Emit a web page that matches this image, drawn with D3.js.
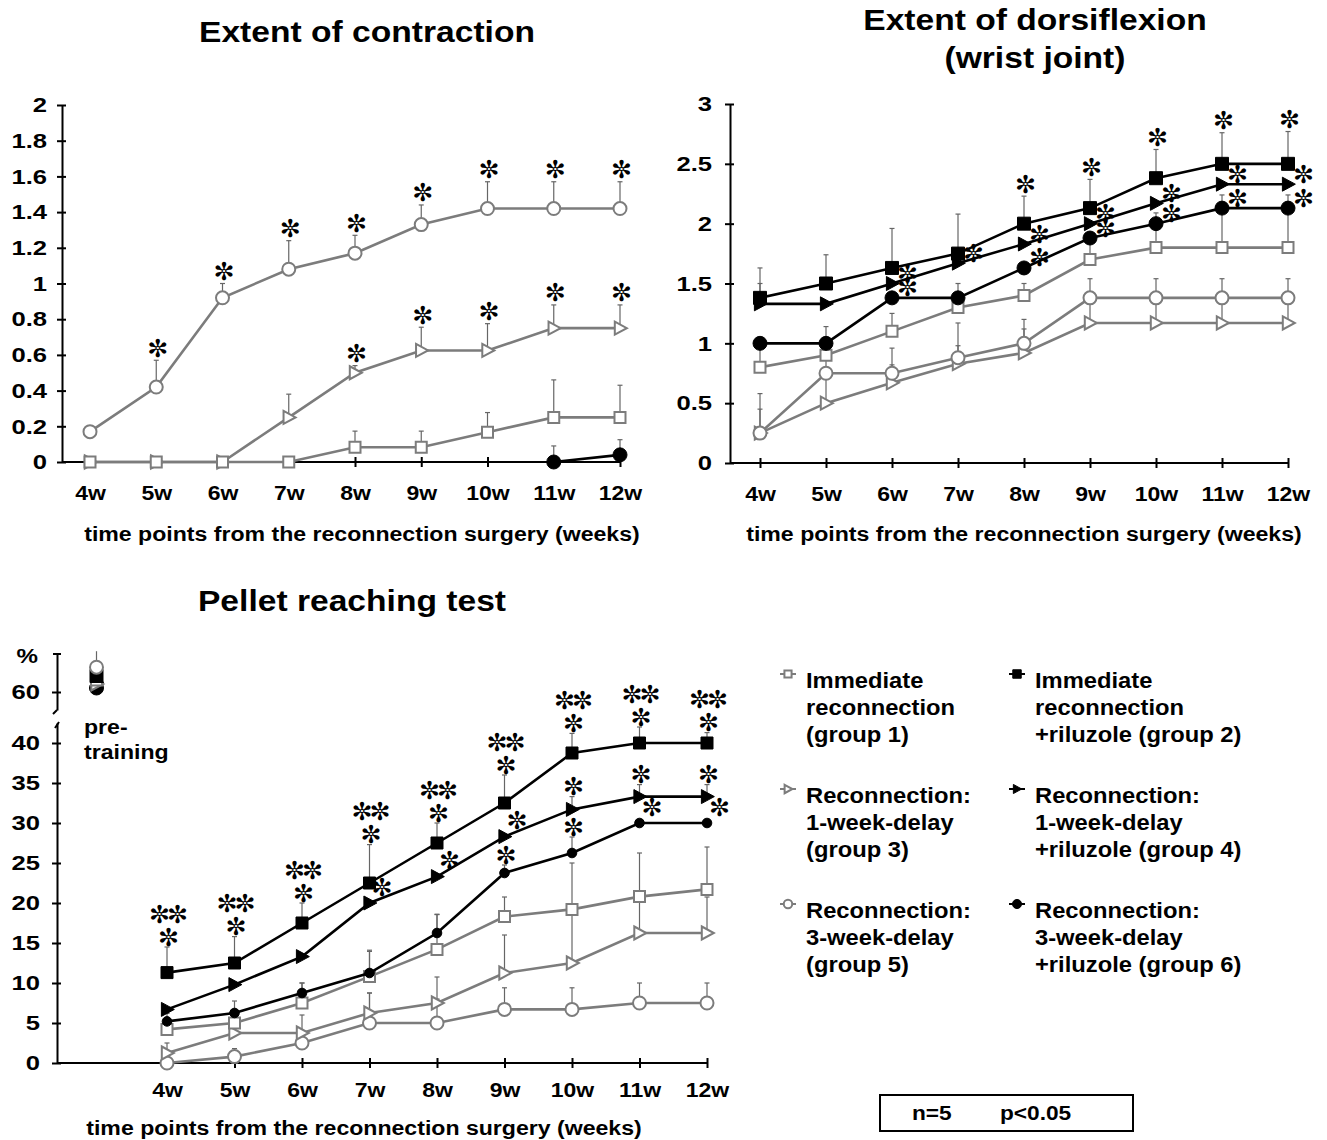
<!DOCTYPE html>
<html>
<head>
<meta charset="utf-8">
<script src="https://cdn.jsdelivr.net/npm/d3@7/dist/d3.min.js"></script>
<style>
  body { margin: 0; background: #fff; }
  text { font-family: "Liberation Sans", Arial, sans-serif; font-weight: bold; fill: #000; }
  .star { font-family: "DejaVu Sans", sans-serif; font-weight: normal; }
</style>
</head>
<body>
<div id="wrapper"></div>
<script>
// 1. Data

const weeks = ["4w", "5w", "6w", "7w", "8w", "9w", "10w", "11w", "12w"]

// Extent of contraction
const contrG1 = [0, 0, 0, 0, 0.083, 0.083, 0.167, 0.25, 0.25]
const contrG1Sd = [0, 0, 0, 0, 0.09, 0.09, 0.11, 0.21, 0.18]
const contrG3 = [0, 0, 0, 0.25, 0.5, 0.625, 0.625, 0.75, 0.75]
const contrG3Sd = [0, 0, 0, 0.13, 0.04, 0.13, 0.15, 0.13, 0.13]
const contrG3Sig = ["", "", "", "", "*", "*", "*", "*", "*"]
const contrG5 = [0.17, 0.42, 0.92, 1.08, 1.17, 1.33, 1.42, 1.42, 1.42]
const contrG5Sd = [0, 0.15, 0.08, 0.16, 0.10, 0.11, 0.15, 0.15, 0.15]
const contrG5Sig = ["", "*", "*", "*", "*", "*", "*", "*", "*"]
const contrG6 = [null, null, null, null, null, null, null, 0, 0.04]
const contrG6Sd = [0, 0, 0, 0, 0, 0, 0, 0.09, 0.085]
const contrTicks = [0, 0.2, 0.4, 0.6, 0.8, 1, 1.2, 1.4, 1.6, 1.8, 2]

// Extent of dorsiflexion
const dorsG1 = [0.8, 0.9, 1.1, 1.3, 1.4, 1.7, 1.8, 1.8, 1.8]
const dorsG1Sd = [0.2, 0.1, 0.15, 0.2, 0.1, 0.19, 0.29, 0.44, 0.44]
const dorsG2 = [1.38, 1.5, 1.63, 1.75, 2.0, 2.13, 2.38, 2.5, 2.5]
const dorsG2Sd = [0.25, 0.24, 0.33, 0.33, 0.23, 0.24, 0.24, 0.26, 0.27]
const dorsG2Sig = ["", "", "", "", "*", "*", "*", "*", "*"]
const dorsG3 = [0.25, 0.5, 0.67, 0.83, 0.92, 1.17, 1.17, 1.17, 1.17]
const dorsG3Sd = [0.2, 0.25, 0.15, 0.15, 0.2, 0.21, 0.21, 0.21, 0.21]
const dorsG4 = [1.33, 1.33, 1.5, 1.67, 1.83, 2.0, 2.17, 2.33, 2.33]
const dorsG4Sd = [0.17, 0, 0, 0, 0, 0, 0, 0, 0]
const dorsG4Sig = ["", "", "*", "*", "*", "*", "*", "*", "*"]
const dorsG5 = [0.25, 0.75, 0.75, 0.88, 1.0, 1.38, 1.38, 1.38, 1.38]
const dorsG5Sd = [0.33, 0.2, 0.21, 0.29, 0.2, 0.16, 0.16, 0.16, 0.16]
const dorsG6 = [1.0, 1.0, 1.38, 1.38, 1.63, 1.88, 2.0, 2.13, 2.13]
const dorsG6Sd = [0, 0.14, 0, 0, 0, 0, 0, 0, 0]
const dorsG6Sig = ["", "", "*", "", "*", "*", "*", "*", "*"]
const dorsTicks = [0, 0.5, 1, 1.5, 2, 2.5, 3]

// Pellet reaching test (%)
const pellG1 = [4.2, 5.0, 7.5, 10.8, 14.2, 18.3, 19.2, 20.8, 21.7]
const pellG1Sd = [1, 1.5, 2.5, 3.3, 4.4, 2.45, 5.8, 5.45, 5.3]
const pellG2 = [11.3, 12.5, 17.5, 22.5, 27.5, 32.5, 38.75, 40, 40]
const pellG2Sd = [3.2, 3.3, 2.5, 4.8, 2.5, 3.5, 2.45, 2.0, 1.3]
const pellG2Sig = ["**|*", "**|*", "**|*", "**|*", "**|*", "**|*", "**|*", "**|*", "**|*"]
const pellG3 = [1.25, 3.75, 3.75, 6.25, 7.5, 11.25, 12.5, 16.25, 16.25]
const pellG3Sd = [1.25, 1.5, 2.25, 2.5, 3.25, 4.75, 6.25, 4.5, 4.5]
const pellG4 = [6.7, 9.8, 13.3, 20, 23.3, 28.3, 31.7, 33.3, 33.3]
const pellG4Sd = [0, 0, 0, 0, 0, 0, 1.6, 1.5, 1.5]
const pellG4Sig = ["", "", "", "*", "*", "*", "*", "*", "*"]
const pellG5 = [0, 0.8, 2.5, 5, 5, 6.7, 6.7, 7.5, 7.5]
const pellG5Sd = [0, 1, 1.5, 3.75, 3, 2.7, 2.7, 2.5, 2.5]
const pellG6 = [5.2, 6.25, 8.75, 11.25, 16.25, 23.75, 26.25, 30, 30]
const pellG6Sd = [1, 1.5, 1.25, 2.7, 2.3, 1.0, 2.0, 0, 0]
const pellG6Sig = ["", "", "", "", "", "*", "*", "*", "*"]
// pre-training values, groups 1..6
const pellPre = [61.5, 62, 61, 61.2, 63.1, 60.5]
const pellPreSd = [0, 0, 0, 0, 2, 0]
const pellTicks = [0, 5, 10, 15, 20, 25, 30, 35, 40]
const pellUpperTicks = [60]

const legendGroups = ["g1", "g3", "g5", "g2", "g4", "g6"]
const legendLabels = [
  ["Immediate", "reconnection", "(group 1)"],
  ["Reconnection:", "1-week-delay", "(group 3)"],
  ["Reconnection:", "3-week-delay", "(group 5)"],
  ["Immediate", "reconnection", "+riluzole (group 2)"],
  ["Reconnection:", "1-week-delay", "+riluzole (group 4)"],
  ["Reconnection:", "3-week-delay", "+riluzole (group 6)"],
]

// 2. Styles

const gray = "#7c7c7c"
const groupStyle = {
  g1: {shape: "square", open: true, color: gray, size: 5.5},
  g2: {shape: "square", open: false, color: "#000", size: 6.5},
  g3: {shape: "triangle", open: true, color: gray, size: 6.5},
  g4: {shape: "triangle", open: false, color: "#000", size: 7},
  g5: {shape: "circle", open: true, color: gray, size: 6.5},
  g6: {shape: "circle", open: false, color: "#000", size: 7},
}

function markerPath(shape, s) {
  if (shape == "square") return `M${-s},${-s}H${s}V${s}H${-s}Z`
  if (shape == "triangle") return `M${-s * 0.8},${-s}L${s * 1.05},0L${-s * 0.8},${s}Z`
  return `M${-s},0A${s},${s} 0 1,0 ${s},0A${s},${s} 0 1,0 ${-s},0Z`
}

// widen text horizontally around its anchor, like the stretched original
function stretch(selection, sx) {
  selection.each(function() {
    const t = d3.select(this)
    const x = +t.attr("x") || 0
    const y = +t.attr("y") || 0
    t.attr("transform", `translate(${x},${y}) scale(${sx},1) translate(${-x},${-y})`)
  })
}

const wrapper = d3.select("#wrapper")
  .append("svg")
    .attr("width", 1327)
    .attr("height", 1140)

function drawMarker(g, group, cx, cy, size) {
  const st = groupStyle[group]
  g.append("path")
      .attr("d", markerPath(st.shape, size || st.size))
      .attr("transform", `translate(${cx},${cy})`)
      .attr("fill", st.open ? "#fff" : "#000")
      .attr("stroke", st.color)
      .attr("stroke-width", st.open ? 2 : 1)
}

function drawSig(g, cx, cy, label, gap) {
  const lines = label.split("|").reverse()
  lines.forEach((line, i) => {
    g.append("text")
        .attr("class", "star")
        .attr("x", cx)
        .attr("y", cy - i * gap)
        .attr("text-anchor", "middle")
        .attr("dominant-baseline", "central")
        .attr("font-size", 25)
        .attr("letter-spacing", -3)
        .text(line.replace(/\*/g, "\u273C"))
  })
}

// 3. Panel drawing

function drawPanel(p) {
  const g = wrapper.append("g")
  const {x, y} = p

  // axes
  const yAxis = d3.axisLeft(y)
      .tickValues(p.yTicks)
      .tickSize(5)
      .tickSizeOuter(0)
      .tickPadding(p.yPad)
      .tickFormat(d => d3.format("")(+d.toFixed(1)))
  const yAxisG = g.append("g")
      .attr("transform", `translate(${p.axisX},0)`)
      .call(yAxis)
  yAxisG.select(".domain").attr("stroke-width", 2)
  yAxisG.selectAll(".tick line").attr("x1", 4).attr("stroke-width", 2)
  yAxisG.selectAll(".tick text").attr("font-size", 21).attr("fill", "#000")
      .call(stretch, 1.22)

  const xAxis = d3.axisBottom(x)
      .tickValues(d3.range(weeks.length))
      .tickSize(5)
      .tickPadding(p.xPad)
      .tickFormat(i => weeks[i])
  const xAxisG = g.append("g")
      .attr("transform", `translate(0,${p.baseY})`)
      .call(xAxis)
  xAxisG.select(".domain").remove()
  xAxisG.selectAll(".tick line").attr("y1", -5).attr("stroke-width", 2)
  xAxisG.selectAll(".tick text").attr("font-size", 20).attr("fill", "#000")
      .call(stretch, 1.15)
  g.append("line")
      .attr("x1", p.axisX).attr("x2", x(weeks.length - 1))
      .attr("y1", p.baseY).attr("y2", p.baseY)
      .attr("stroke", "#000").attr("stroke-width", 2)

  // error bars
  p.series.forEach(s => {
    s.values.forEach((v, i) => {
      if (v == null || !s.sd[i]) return
      const top = y(v + s.sd[i])
      g.append("line")
          .attr("x1", x(i)).attr("x2", x(i))
          .attr("y1", y(v)).attr("y2", top)
          .attr("stroke", "#666").attr("stroke-width", 1.2)
      g.append("line")
          .attr("x1", x(i) - 2.5).attr("x2", x(i) + 2.5)
          .attr("y1", top).attr("y2", top)
          .attr("stroke", "#666").attr("stroke-width", 1.2)
    })
  })

  // lines and markers
  const lineGenerator = d3.line()
      .defined(d => d != null)
      .x((d, i) => x(i))
      .y(d => y(d))
  p.series.forEach(s => {
    const st = groupStyle[s.group]
    g.append("path")
        .attr("d", lineGenerator(s.values))
        .attr("fill", "none")
        .attr("stroke", st.color)
        .attr("stroke-width", 2.6)
    s.values.forEach((v, i) => {
      if (v == null) return
      drawMarker(g, s.group, x(i), y(v), (p.sizes || {})[s.group])
    })
  })

  // significance marks
  p.series.forEach(s => {
    if (!s.sig) return
    s.sig.forEach((label, i) => {
      if (!label) return
      const v = s.values[i]
      if (s.sd[i]) {
        drawSig(g, x(i), y(v + s.sd[i]) - p.sigOffset, label, 23)
      } else {
        drawSig(g, x(i) + p.sideDx, y(v) + p.sideDy, label, 23)
      }
    })
  })
  return g
}

function drawText(parent, str, x, y, size, sx, anchor) {
  parent.append("text")
      .attr("x", x)
      .attr("y", y)
      .attr("text-anchor", anchor || "start")
      .attr("font-size", size)
      .text(str)
      .call(stretch, sx)
}

const xTitle = "time points from the reconnection surgery (weeks)"

// Panel A: extent of contraction
const xA = d3.scaleLinear().domain([0, 8]).range([90, 620])
const yA = d3.scaleLinear().domain([0, 2]).range([462, 105])
drawPanel({
  x: xA, y: yA, axisX: 62, baseY: 462, yTicks: contrTicks, yPad: 10, xPad: 19,
  sigOffset: 12, sideDx: 14, sideDy: -10,
  series: [
    {group: "g3", values: contrG3, sd: contrG3Sd, sig: contrG3Sig},
    {group: "g1", values: contrG1, sd: contrG1Sd},
    {group: "g5", values: contrG5, sd: contrG5Sd, sig: contrG5Sig},
    {group: "g6", values: contrG6, sd: contrG6Sd},
  ],
})
drawText(wrapper, "Extent of contraction", 367, 42, 30, 1.12, "middle")
drawText(wrapper, xTitle, 362, 541, 21, 1.1, "middle")

// Panel B: extent of dorsiflexion
const xB = d3.scaleLinear().domain([0, 8]).range([760, 1288])
const yB = d3.scaleLinear().domain([0, 3]).range([463, 104])
drawPanel({
  x: xB, y: yB, axisX: 730, baseY: 463, yTicks: dorsTicks, yPad: 13, xPad: 19,
  sigOffset: 12, sideDx: 14, sideDy: -10,
  series: [
    {group: "g3", values: dorsG3, sd: dorsG3Sd},
    {group: "g5", values: dorsG5, sd: dorsG5Sd},
    {group: "g1", values: dorsG1, sd: dorsG1Sd},
    {group: "g6", values: dorsG6, sd: dorsG6Sd, sig: dorsG6Sig},
    {group: "g4", values: dorsG4, sd: dorsG4Sd, sig: dorsG4Sig},
    {group: "g2", values: dorsG2, sd: dorsG2Sd, sig: dorsG2Sig},
  ],
})
drawText(wrapper, "Extent of dorsiflexion", 1035, 30, 30, 1.12, "middle")
drawText(wrapper, "(wrist joint)", 1035, 68, 30, 1.12, "middle")
drawText(wrapper, xTitle, 1024, 541, 21, 1.1, "middle")

// Panel C: pellet reaching test (broken y axis)
const xC = d3.scaleLinear().domain([0, 8]).range([167, 707])
const yC = d3.scaleLinear().domain([0, 42.5]).range([1063, 723])
const yCUp = d3.scaleLinear().domain([57.75, 64.75]).range([710, 654])
const pellSizes = {g2: 6, g6: 4.8}
const gC = drawPanel({
  x: xC, y: yC, axisX: 57, baseY: 1063, yTicks: pellTicks, yPad: 12, xPad: 15,
  sigOffset: 10, sideDx: 11, sideDy: -16, sizes: pellSizes,
  series: [
    {group: "g5", values: pellG5, sd: pellG5Sd},
    {group: "g3", values: pellG3, sd: pellG3Sd},
    {group: "g1", values: pellG1, sd: pellG1Sd},
    {group: "g6", values: pellG6, sd: pellG6Sd, sig: pellG6Sig},
    {group: "g4", values: pellG4, sd: pellG4Sd, sig: pellG4Sig},
    {group: "g2", values: pellG2, sd: pellG2Sd, sig: pellG2Sig},
  ],
})

const upperAxis = d3.axisLeft(yCUp)
    .tickValues(pellUpperTicks)
    .tickSize(5)
    .tickSizeOuter(0)
    .tickPadding(12)
    .tickFormat(d3.format("d"))
const upperG = gC.append("g")
    .attr("transform", "translate(57,0)")
    .call(upperAxis)
upperG.select(".domain").attr("stroke-width", 2)
upperG.selectAll(".tick line").attr("x1", 4).attr("stroke-width", 2)
upperG.selectAll(".tick text").attr("font-size", 21).attr("fill", "#000")
    .call(stretch, 1.22)
gC.append("line").attr("x1", 53).attr("x2", 61).attr("y1", 654).attr("y2", 654)
    .attr("stroke", "#000").attr("stroke-width", 2)

// axis break marks
gC.append("path")
    .attr("d", `M57,${yCUp(57.75)}L53,${yCUp(57.75) + 4}M55,${yC(42.5) + 5}L59,${yC(42.5) - 1}`)
    .attr("fill", "none").attr("stroke", "#000").attr("stroke-width", 2)
drawText(gC, "%", 38, 663, 21, 1.15, "end")

// pre-training points
const preX = xC(-1) - 3
pellPre.forEach((v, i) => {
  if (!pellPreSd[i]) return
  gC.append("line").attr("x1", preX).attr("x2", preX)
      .attr("y1", yCUp(v)).attr("y2", yCUp(v + pellPreSd[i]))
      .attr("stroke", "#666").attr("stroke-width", 1.2)
})
const preOrder = [5, 3, 2, 0, 1, 4]
preOrder.forEach(i => {
  drawMarker(gC, "g" + (i + 1), preX, yCUp(pellPre[i]))
})
drawText(gC, "pre-", 84, 734, 21, 1.1)
drawText(gC, "training", 84, 759, 21, 1.1)

drawText(wrapper, "Pellet reaching test", 352, 611, 30, 1.12, "middle")
drawText(wrapper, xTitle, 364, 1135, 21, 1.1, "middle")

// 4. Legend

const legend = wrapper.append("g")
legendGroups.forEach((group, i) => {
  const col = Math.floor(i / 3)
  const row = i % 3
  const mx = col == 0 ? 788 : 1017
  const ty = 688 + row * 115
  const st = groupStyle[group]
  legend.append("line")
      .attr("x1", mx - 8).attr("x2", mx + 8)
      .attr("y1", ty - 14).attr("y2", ty - 14)
      .attr("stroke", st.color).attr("stroke-width", 2)
  drawMarker(legend, group, mx, ty - 14, st.size * 0.65)
  legendLabels[i].forEach((line, j) => {
    drawText(legend, line, mx + 18, ty + j * 27, 22, 1.08)
  })
})

wrapper.append("rect")
    .attr("x", 880).attr("y", 1095).attr("width", 253).attr("height", 36)
    .attr("fill", "none").attr("stroke", "#000").attr("stroke-width", 2)
drawText(wrapper, "n=5", 912, 1120, 21, 1.08)
drawText(wrapper, "p<0.05", 1000, 1120, 21, 1.08)
</script>
</body>
</html>
